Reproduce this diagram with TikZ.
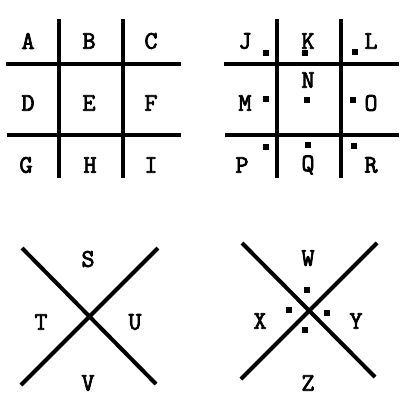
\documentclass[tikz,border=0pt]{standalone}
\usepackage{fontspec}
\newfontfamily\pigfont{Latin Modern Mono}[FakeBold=3]
\begin{document}
\begin{tikzpicture}[x=0.75pt,y=-0.75pt,
  bar/.style={line width=3pt,line cap=butt},
  let/.style={font=\pigfont\fontsize{19}{19}\selectfont,inner sep=0pt,anchor=center},
  dot/.style={fill=black,minimum size=4.5pt,inner sep=0pt,draw=none,shape=rectangle}]
\useasboundingbox (0,0) rectangle (402,400);
% grid 1
\coordinate (g1v1t) at (59,19); \coordinate (g1v1b) at (59,178);
\coordinate (g1v2t) at (123,19); \coordinate (g1v2b) at (123,178);
\coordinate (g1h1l) at (6,64); \coordinate (g1h1r) at (181,64);
\coordinate (g1h2l) at (7,135); \coordinate (g1h2r) at (181,135);
\draw[bar] (g1v1t) -- (g1v1b);
\draw[bar] (g1v2t) -- (g1v2b);
\draw[bar] (g1h1l) -- (g1h1r);
\draw[bar] (g1h2l) -- (g1h2r);
\node[let] (A) at (28,41) {A};
\node[let] (B) at (89,41) {B};
\node[let] (C) at (151,41) {C};
\node[let] (D) at (28,103) {D};
\node[let] (E) at (89,103) {E};
\node[let] (F) at (151,103) {F};
\node[let] (G) at (26,165) {G};
\node[let] (H) at (90,165) {H};
\node[let] (I) at (151,165) {I};
% grid 2
\coordinate (g2v1t) at (277,19); \coordinate (g2v1b) at (277,178);
\coordinate (g2v2t) at (341,19); \coordinate (g2v2b) at (341,178);
\coordinate (g2h1l) at (224,64); \coordinate (g2h1r) at (399,64);
\coordinate (g2h2l) at (225,135); \coordinate (g2h2r) at (399,135);
\draw[bar] (g2v1t) -- (g2v1b);
\draw[bar] (g2v2t) -- (g2v2b);
\draw[bar] (g2h1l) -- (g2h1r);
\draw[bar] (g2h2l) -- (g2h2r);
\node[let] (J) at (245,41) {J};
\node[let] (K) at (308,41) {K};
\node[let] (L) at (371,41) {L};
\node[let] (M) at (245,103) {M};
\node[let] (N) at (308,80) {N};
\node[let] (O) at (371,103) {O};
\node[let] (P) at (242,165) {P};
\node[let] (Q) at (308,165) {Q};
\node[let] (R) at (371,165) {R};
\node[dot] (dJ) at (266,53) {};
\node[dot] (dK) at (305,53) {};
\node[dot] (dL) at (355,52) {};
\node[dot] (dM) at (266,99) {};
\node[dot] (dN) at (307,100) {};
\node[dot] (dO) at (353,100) {};
\node[dot] (dP) at (266,147) {};
\node[dot] (dQ) at (308,145) {};
\node[dot] (dR) at (354,146) {};
% X 1
\coordinate (x1a) at (22,248); \coordinate (x1b) at (156,384);
\coordinate (x1c) at (158,248); \coordinate (x1d) at (21,385);
\draw[bar] (x1a) -- (x1b);
\draw[bar] (x1c) -- (x1d);
\node[let] (S) at (88,259) {S};
\node[let] (T) at (41,322) {T};
\node[let] (U) at (135,322) {U};
\node[let] (V) at (88,383) {V};
% X 2
\coordinate (x2a) at (242,243); \coordinate (x2b) at (375,377);
\coordinate (x2c) at (377,243); \coordinate (x2d) at (241,379);
\draw[bar] (x2a) -- (x2b);
\draw[bar] (x2c) -- (x2d);
\node[let] (W) at (308,258) {W};
\node[let] (X) at (260,321) {X};
\node[let] (Y) at (356,321) {Y};
\node[let] (Z) at (308,383) {Z};
\node[dot] (dW) at (307,290) {};
\node[dot] (dX) at (289,310) {};
\node[dot] (dY) at (327,313) {};
\node[dot] (dZ) at (305,330) {};
\end{tikzpicture}
\end{document}
